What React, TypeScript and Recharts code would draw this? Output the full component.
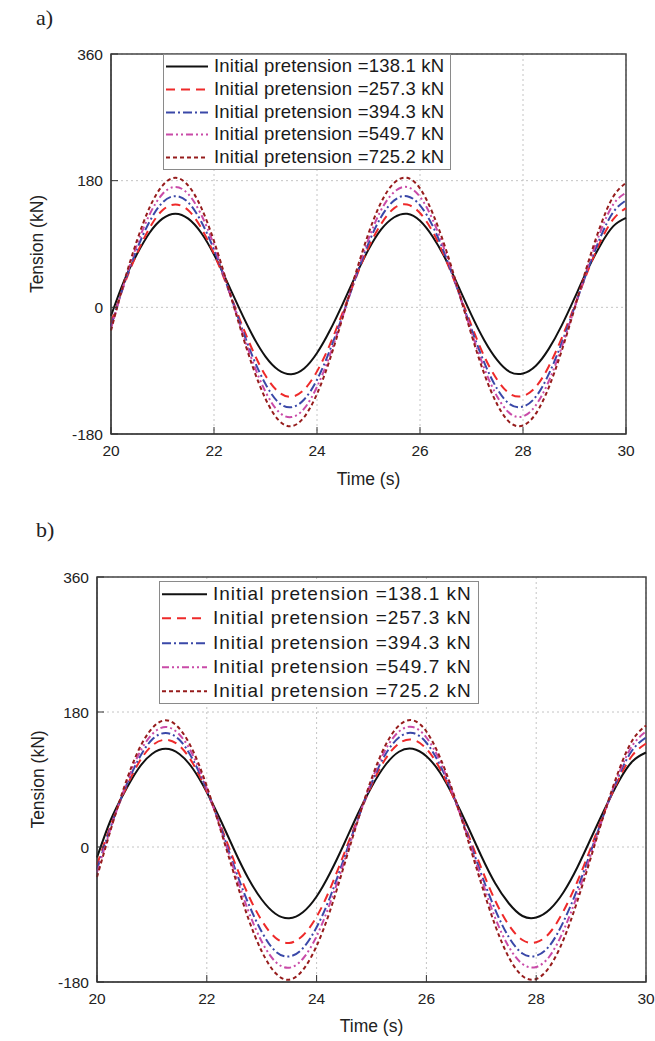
import { CartesianGrid, Label, Legend, Line, LineChart, ReferenceArea, XAxis, YAxis } from 'recharts';

// time axis (s)
const time = [
  20, 20.25, 20.5, 20.75, 21, 21.25, 21.5, 21.75, 22, 22.25, 22.5, 22.75, 23, 23.25, 23.5, 23.75,
  24, 24.25, 24.5, 24.75, 25, 25.25, 25.5, 25.75, 26, 26.25, 26.5, 26.75, 27, 27.25, 27.5, 27.75,
  28, 28.25, 28.5, 28.75, 29, 29.25, 29.5, 29.75, 30,
];

const labels = [
  'Initial pretension =138.1 kN',
  'Initial pretension =257.3 kN',
  'Initial pretension =394.3 kN',
  'Initial pretension =549.7 kN',
  'Initial pretension =725.2 kN',
];
const colors = ['#111111', '#ee2a2a', '#3a48a8', '#c94ba8', '#961c1c'];
const dashes = [undefined, '9 6', '9 3 2 3', '7 3 2 3 2 3', '4 3'];

const xTicks = [20, 22, 24, 26, 28, 30];
const yTicks = [-180, 0, 180, 360];

// panel a)
const a138 = [-12, 37, 75, 106, 126, 133, 126, 106, 75, 37, -3, -40, -70, -89, -95, -87, -65, -33, 5, 45, 82, 111, 128, 133, 123, 100, 68, 29, -11, -47, -75, -92, -94, -83, -59, -26, 13, 53, 88, 115, 127];
const a257 = [-22, 31, 76, 113, 138, 146, 138, 113, 76, 31, -17, -61, -97, -120, -127, -117, -91, -53, -7, 41, 85, 119, 141, 146, 134, 107, 68, 22, -26, -70, -103, -123, -126, -113, -84, -44, 2, 50, 93, 125, 141];
const a394 = [-27, 32, 82, 122, 149, 158, 149, 122, 82, 32, -21, -70, -109, -135, -142, -131, -103, -61, -11, 42, 91, 129, 152, 158, 145, 115, 72, 21, -31, -79, -116, -138, -141, -127, -95, -51, 0, 52, 99, 135, 152];
const a549 = [-30, 33, 88, 132, 161, 171, 161, 132, 88, 33, -24, -77, -120, -148, -156, -144, -113, -68, -13, 45, 97, 139, 164, 171, 157, 124, 77, 22, -35, -87, -127, -151, -155, -139, -105, -57, -1, 56, 107, 146, 163];
const a725 = [-33, 35, 94, 142, 173, 184, 173, 142, 94, 35, -27, -84, -130, -160, -169, -156, -123, -74, -14, 48, 105, 150, 177, 184, 169, 133, 83, 23, -39, -95, -138, -164, -168, -151, -114, -62, -2, 60, 115, 157, 177];

// panel b)
const b138 = [-14, 36, 73, 104, 124, 131, 124, 104, 73, 36, -4, -41, -70, -89, -95, -87, -66, -34, 4, 44, 80, 109, 127, 131, 121, 99, 66, 28, -12, -48, -75, -92, -94, -83, -60, -27, 12, 51, 87, 114, 126];
const b257 = [-24, 29, 74, 111, 135, 143, 135, 111, 74, 29, -19, -63, -98, -121, -128, -118, -93, -55, -9, 38, 82, 117, 138, 143, 131, 104, 65, 19, -28, -71, -104, -124, -127, -114, -85, -46, 0, 48, 90, 122, 138];
const b394 = [-30, 27, 76, 116, 143, 152, 143, 116, 76, 27, -26, -74, -113, -139, -146, -135, -107, -66, -15, 37, 85, 123, 146, 152, 139, 109, 67, 16, -36, -83, -120, -142, -145, -131, -99, -56, -5, 47, 94, 129, 146];
const b549 = [-34, 25, 78, 122, 150, 160, 150, 122, 78, 25, -31, -84, -126, -153, -161, -149, -119, -74, -20, 36, 88, 129, 154, 160, 146, 114, 68, 14, -42, -94, -133, -156, -160, -145, -111, -64, -9, 47, 97, 135, 154];
const b725 = [-40, 23, 81, 128, 158, 169, 158, 128, 81, 23, -37, -94, -139, -168, -177, -164, -132, -84, -25, 35, 91, 135, 162, 169, 154, 119, 70, 11, -49, -104, -147, -172, -176, -159, -123, -72, -13, 47, 101, 142, 162];

const buildRows = (series: number[][]) =>
  time.map((t, i) => {
    const row: any = { t };
    series.forEach((s, k) => {
      row['s' + k] = s[i];
    });
    return row;
  });

const FONT = '"Liberation Sans", Arial, sans-serif';

const LegendBox = ({ rowH, fontSize, spacing, sampleW }: any) => (
  <div style={{ border: '1px solid #8a8a8a', background: '#fff', padding: '0 6px 0 1px', fontFamily: FONT, fontSize, color: '#1a1a1a' }}>
    {labels.map((l, i) => (
      <div key={l} style={{ display: 'flex', alignItems: 'center', height: rowH }}>
        <svg width={sampleW} height={rowH} style={{ display: 'block' }}>
          <line x1={1} x2={sampleW - 1} y1={rowH / 2} y2={rowH / 2} stroke={colors[i]} strokeWidth={2} strokeDasharray={dashes[i]} />
        </svg>
        <span style={{ marginLeft: 5, letterSpacing: spacing, whiteSpace: 'nowrap', lineHeight: `${rowH}px` }}>{l}</span>
      </div>
    ))}
  </div>
);

const Panel = ({ rows, height, margin, yLabelOffset, xLabelOffset, legendPos, legendProps }: any) => (
  <LineChart width={655} height={height} data={rows} margin={margin}>
    <CartesianGrid stroke="#c4c4c4" strokeDasharray="2 3" />
    <XAxis
      dataKey="t"
      type="number"
      domain={[20, 30]}
      ticks={xTicks}
      height={30}
      tickSize={-7}
      tickMargin={18}
      stroke="#333"
      fontSize={15.5}
      tick={{ fill: '#222', fontSize: 15.5, fontFamily: FONT }}
    >
      <Label value="Time (s)" position="bottom" offset={xLabelOffset} style={{ fill: '#222', fontSize: 17.5, fontFamily: FONT }} />
    </XAxis>
    <YAxis
      type="number"
      domain={[-180, 360]}
      ticks={yTicks}
      width={90}
      tickSize={-7}
      tickMargin={15}
      stroke="#333"
      fontSize={15.5}
      tick={{ fill: '#222', fontSize: 15.5, fontFamily: FONT }}
    >
      <Label value="Tension (kN)" angle={-90} position="insideLeft" offset={yLabelOffset} style={{ textAnchor: 'middle', fill: '#222', fontSize: 17.5, fontFamily: FONT }} />
    </YAxis>
    <ReferenceArea x1={20} x2={30} y1={-180} y2={360} fill="none" stroke="#444" strokeWidth={1.5} />
    <Legend
      layout="vertical"
      align="center"
      verticalAlign="middle"
      wrapperStyle={{ left: legendPos.left, top: legendPos.top, width: 'auto' }}
      content={() => <LegendBox {...legendProps} />}
    />
    {labels.map((l, k) => (
      <Line
        key={l}
        name={l}
        dataKey={'s' + k}
        type="natural"
        stroke={colors[k]}
        strokeWidth={2}
        strokeDasharray={dashes[k]}
        dot={false}
        isAnimationActive={false}
      />
    ))}
  </LineChart>
);

const rowsA = buildRows([a138, a257, a394, a549, a725]);
const rowsB = buildRows([b138, b257, b394, b549, b725]);

const tag = { position: 'absolute' as const, left: 36, fontFamily: '"Liberation Serif", serif', fontSize: 22, lineHeight: '22px', color: '#222' };

export default function App() {
  return (
    <div style={{ position: 'absolute', left: 0, top: 0, width: 655, height: 1041, background: '#fff' }}>
      <div style={{ ...tag, top: 7 }}>a)</div>
      <div style={{ position: 'absolute', left: 0, top: 0 }}>
        <Panel
          rows={rowsA}
          height={500}
          margin={{ top: 54, right: 29, bottom: 36, left: 21 }}
          yLabelOffset={16}
          xLabelOffset={9}
          legendPos={{ left: 163, top: 54 }}
          legendProps={{ rowH: 22.8, fontSize: 18.5, spacing: 0.2, sampleW: 44 }}
        />
      </div>
      <div style={{ ...tag, top: 519 }}>b)</div>
      <div style={{ position: 'absolute', left: 0, top: 520 }}>
        <Panel
          rows={rowsB}
          height={521}
          margin={{ top: 57, right: 9, bottom: 29, left: 7 }}
          yLabelOffset={31}
          xLabelOffset={8}
          legendPos={{ left: 159, top: 61 }}
          legendProps={{ rowH: 24.3, fontSize: 19, spacing: 1, sampleW: 47 }}
        />
      </div>
    </div>
  );
}
